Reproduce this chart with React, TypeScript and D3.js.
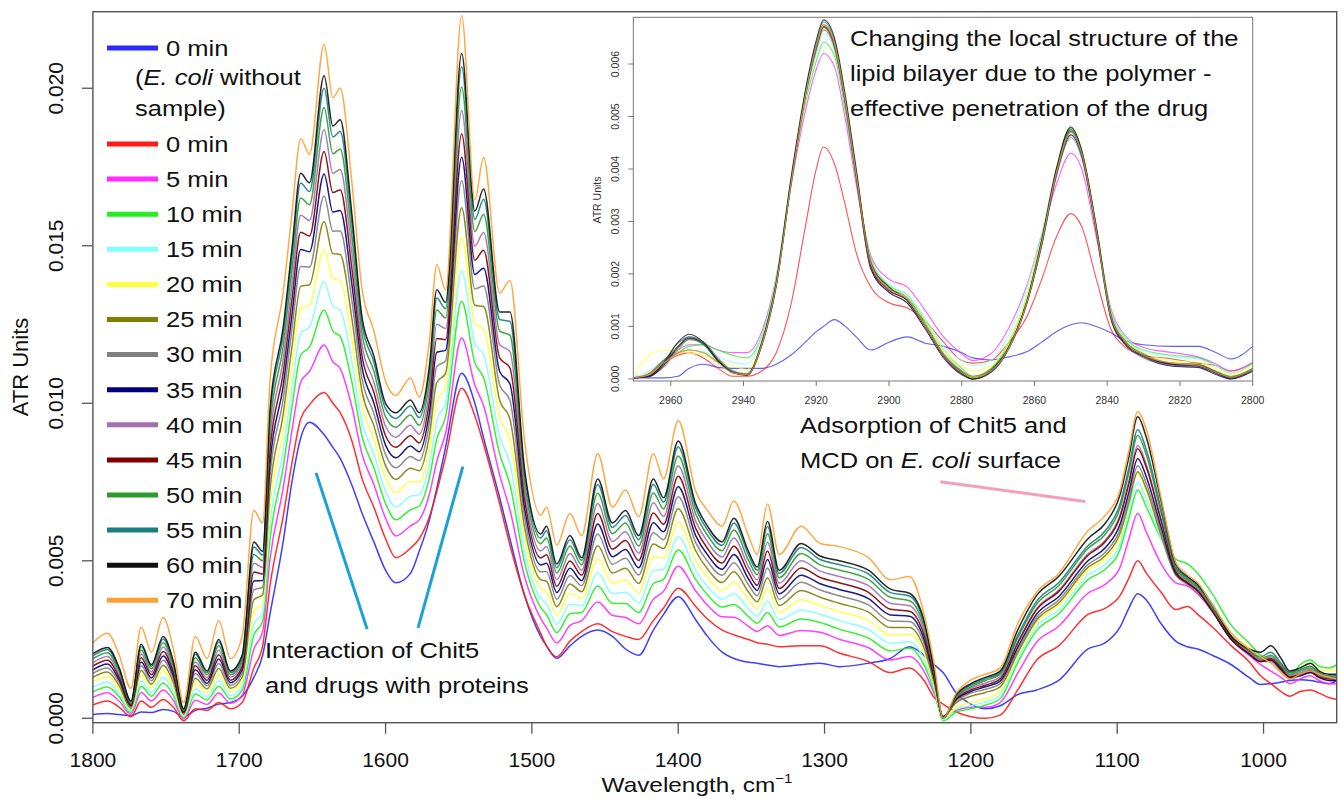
import React from "react";
import * as d3 from "d3";

// ---------- MAIN SPECTRUM (ATR units x 1e-3) ----------
const wavenumbers = [1800,1790,1782,1774,1767,1760,1752,1745,1738,1730,1722,1714,1706,1698,1690,1684,1679,1670,1664,1658,1652,1642,1636,1631,1623,1616,1608,1600,1593,1583,1577,1570,1565,1559,1548,1539,1533,1522,1515,1505,1494,1490,1483,1474,1466,1455,1445,1436,1427,1417,1410,1400,1388,1380,1370,1362,1352,1346,1339,1331,1316,1303,1290,1270,1255,1242,1232,1225,1219,1210,1200,1190,1180,1168,1155,1140,1120,1108,1098,1092,1086,1080,1070,1060,1052,1045,1035,1022,1010,1002,995,988,982,975,968,962,955,950];

const mEcoli = [0.12,0.15,0.12,0.08,0.2,0.18,0.28,0.22,0.05,0.25, 0.32,0.45,0.5,0.7,1.3,2.0,3.3,5.6,7.5,8.9, 9.4,9.0,8.6,8.25,7.4,6.5,5.6,4.7,4.3,4.6, 5.3,6.3,7.3,8.6,10.95,10.0,8.9,7.0,5.7,3.9, 2.6,2.3,1.9,2.3,2.6,2.8,2.6,2.2,2.0,2.8, 3.3,3.86,3.12,2.6,2.1,1.9,1.78,1.75,1.69,1.64, 1.7,1.75,1.64,1.75,1.9,2.27,2.0,1.7,1.45,0.8, 0.45,0.3,0.4,0.75,0.9,1.2,2.2,2.4,2.9,3.5, 3.95,3.75,3.0,2.45,2.27,2.2,2.0,1.7,1.3,1.07, 1.1,1.15,1.2,1.22,1.2,1.15,1.1,1.2];
const m0 = [0.42,0.55,0.35,0.05,0.55,0.35,0.6,0.35,-0.08,0.3, 0.25,0.5,0.3,0.5,1.6,2.3,4.2,6.4,8.1,9.5, 9.95,10.34,10.0,9.7,8.8,7.6,6.7,5.7,5.1,5.4, 5.7,6.4,7.2,8.3,10.48,9.6,8.7,6.8,5.5,3.9, 2.7,2.3,1.95,2.45,2.75,3.0,2.75,2.6,2.5,3.1, 3.5,4.13,3.55,3.15,2.8,2.65,2.5,2.4,2.35,2.27, 2.3,2.3,2.07,1.8,1.45,1.6,1.2,0.65,0.45,0.2, 0.05,0.0,0.1,0.9,1.85,2.3,3.3,3.5,3.9,4.45, 5.0,4.6,4.0,3.45,3.55,3.3,2.9,2.3,1.8,1.35, 1.1,0.85,0.7,0.85,0.9,0.8,0.65,0.6];
const m5 = [0.66,0.81,0.54,0.13,0.82,0.55,0.90,0.57,-0.02,0.57, 0.44,0.80,0.48,0.73,2.2,2.75,5.04,7.3,9.12,10.67, 11.01,11.85,11.32,11.1,9.88,8.37,7.42,6.35,5.79,6.11, 6.3,7.12,8.16,9.04,12.07,10.58,9.92,7.72,6.61,4.5, 3.17,2.87,2.39,2.95,3.1,3.69,3.27,3.2,3.0,3.78, 4.03,4.83,4.04,3.59,3.22,3.21,2.92,2.76,2.94,2.63, 2.79,2.73,2.51,2.24,1.85,1.96,1.49,0.78,0.05,0.25, 0.35,0.35,0.5,1.43,2.42,2.92,3.97,4.26,4.8,5.7, 6.5,5.9,4.9,4.3,4.2,3.95,3.4,2.5,2.0,1.7, 1.5,1.3,1.1,1.25,1.35,1.2,1.1,1.1];
const m10 = [0.84,0.99,0.68,0.18,1.02,0.70,1.12,0.73,0.02,0.77, 0.58,1.02,0.61,0.89,2.64,3.08,5.66,7.96,9.87,11.53, 11.78,12.96,12.29,12.12,10.67,8.93,7.95,6.82,6.3,6.62, 6.74,7.65,8.86,9.57,13.24,11.29,10.81,8.39,7.42,4.94, 3.52,3.29,2.72,3.32,3.36,4.2,3.65,3.64,3.36,4.27, 4.41,5.34,4.4,3.92,3.53,3.61,3.23,3.02,3.36,2.9, 3.15,3.04,2.83,2.55,2.14,2.22,1.69,0.87,-0.08,0.2, 0.3,0.42,0.62,1.77,2.79,3.31,4.4,4.74,5.37,6.35, 7.25,6.7,5.7,5.05,4.9,4.6,3.95,2.95,2.4,2.0, 1.85,1.55,1.35,1.7,1.85,1.65,1.6,1.7];
const m15 = [0.99,1.15,0.79,0.23,1.18,0.82,1.30,0.86,0.05,0.93, 0.69,1.20,0.72,1.03,3.0,3.35,6.16,8.5,10.48,12.23, 12.42,13.86,13.08,12.96,11.32,9.39,8.38,7.21,6.71,7.05, 7.1,8.08,9.44,10.02,14.2,11.88,11.54,8.94,8.09,5.3, 3.8,3.63,2.98,3.62,3.57,4.61,3.96,4.0,3.66,4.68, 4.73,5.76,4.69,4.18,3.78,3.95,3.48,3.24,3.72,3.12, 3.44,3.3,3.1,2.82,2.38,2.43,1.87,0.95,-0.05,0.3, 0.4,0.52,0.75,1.89,2.92,3.44,4.55,4.9,5.56,6.6, 7.5,6.95,5.7,4.7,4.5,4.25,3.65,2.7,2.2,1.9, 1.8,1.5,1.25,1.4,1.5,1.35,1.3,1.35];
const m20 = [1.15,1.32,0.91,0.28,1.36,0.96,1.50,1.00,0.09,1.11, 0.81,1.40,0.84,1.18,3.4,3.65,6.72,9.1,11.16,13.01, 13.12,14.87,13.96,13.89,12.04,9.9,8.86,7.64,7.17,7.52, 7.5,8.56,10.08,10.51,15.26,12.53,12.35,9.55,8.83,5.7, 4.12,4.01,3.28,3.96,3.81,5.07,4.3,4.4,3.99,5.13, 5.08,6.23,5.01,4.48,4.06,4.32,3.76,3.48,4.11,3.36, 3.76,3.58,3.39,3.11,2.64,2.67,2.06,1.03,0.0,0.35, 0.5,0.62,0.85,2.0,3.04,3.58,4.69,5.07,5.76,6.8, 7.8,7.2,5.8,4.65,4.45,4.2,3.6,2.7,2.25,1.95, 1.95,1.65,1.4,1.6,1.7,1.55,1.5,1.55];
const m25 = [1.30,1.47,1.03,0.32,1.52,1.08,1.68,1.13,0.13,1.27, 0.93,1.58,0.95,1.31,3.76,3.92,7.22,9.64,11.77,13.71, 13.76,15.77,14.75,14.72,12.69,10.35,9.29,8.02,7.58,7.94, 7.86,8.99,10.66,10.95,16.21,13.11,13.07,10.09,9.5,6.06, 4.4,4.35,3.54,4.26,4.02,5.48,4.61,4.76,4.28,5.53, 5.39,6.65,5.31,4.74,4.31,4.65,4.01,3.7,4.46,3.58, 4.06,3.84,3.65,3.37,2.88,2.88,2.23,1.11,0.05,0.5, 0.7,0.82,1.0,2.08,3.12,3.66,4.79,5.17,5.88,6.84, 7.83,7.27,5.8,4.55,4.3,4.05,3.45,2.55,2.1,1.85, 1.85,1.55,1.3,1.4,1.5,1.35,1.3,1.3];
const m30 = [1.43,1.60,1.13,0.36,1.67,1.19,1.84,1.25,0.16,1.42, 1.03,1.74,1.04,1.43,4.08,4.16,7.67,10.12,12.32,14.34, 14.32,16.58,15.46,15.47,13.26,10.76,9.68,8.37,7.95,8.31, 8.18,9.38,11.17,11.34,17.06,13.63,13.72,10.58,10.09,6.38, 4.65,4.66,3.78,4.53,4.21,5.85,4.89,5.08,4.55,5.89, 5.67,7.03,5.57,4.98,4.54,4.94,4.24,3.89,4.77,3.78, 4.32,4.07,3.89,3.6,3.09,3.07,2.38,1.18,0.05,0.55, 0.8,0.92,1.1,2.15,3.2,3.75,4.88,5.28,6.01,6.99, 8.02,7.44,5.91,4.55,4.25,4.0,3.4,2.5,2.05,1.8, 1.8,1.5,1.25,1.35,1.45,1.3,1.2,1.2];
const m35 = [1.54,1.72,1.21,0.40,1.79,1.28,1.98,1.35,0.18,1.54, 1.11,1.88,1.13,1.54,4.36,4.37,8.06,10.54,12.79,14.88, 14.81,17.28,16.07,16.12,13.77,11.12,10.01,8.67,8.27,8.64, 8.46,9.71,11.62,11.68,17.81,14.09,14.29,11.01,10.61,6.66, 4.87,4.92,3.99,4.76,4.37,6.17,5.13,5.36,4.78,6.21, 5.92,7.35,5.79,5.19,4.73,5.2,4.43,4.06,5.04,3.95, 4.54,4.27,4.09,3.8,3.28,3.24,2.51,1.24,0.05,0.6, 0.85,1.0,1.18,2.25,3.31,3.86,5.0,5.42,6.17,7.18, 8.24,7.65,6.06,4.6,4.3,4.05,3.4,2.5,2.05,1.8, 1.85,1.55,1.3,1.35,1.45,1.3,1.2,1.2];
const m40 = [1.77,1.96,1.39,0.47,2.04,1.47,2.26,1.55,0.24,1.79, 1.29,2.16,1.30,1.75,4.92,4.79,8.85,11.38,13.74,15.97, 15.8,18.69,17.3,17.42,14.78,11.83,10.68,9.27,8.92,9.3, 9.02,10.38,12.51,12.37,19.29,14.99,15.42,11.86,11.64,7.22, 5.31,5.45,4.4,5.23,4.7,6.82,5.61,5.92,5.24,6.84, 6.41,8.01,6.25,5.6,5.12,5.72,4.82,4.39,5.59,4.29, 5.0,4.67,4.5,4.21,3.65,3.57,2.78,1.36,0.02,0.65, 0.95,1.12,1.32,2.42,3.49,4.06,5.22,5.66,6.46,7.53, 8.66,8.04,6.32,4.7,4.35,4.1,3.45,2.55,2.1,1.85, 1.95,1.65,1.35,1.45,1.55,1.35,1.3,1.28];
const m45 = [1.66,1.84,1.30,0.43,1.92,1.38,2.12,1.45,0.21,1.67, 1.20,2.02,1.21,1.64,4.64,4.58,8.46,10.96,13.27,15.43, 15.31,17.99,16.69,16.77,14.27,11.48,10.35,8.97,8.6,8.97, 8.74,10.05,12.06,12.02,18.55,14.54,14.86,11.44,11.12,6.94, 5.09,5.19,4.19,4.99,4.54,6.5,5.37,5.64,5.01,6.52, 6.16,7.68,6.02,5.39,4.93,5.46,4.63,4.22,5.31,4.12, 4.77,4.47,4.3,4.0,3.46,3.4,2.64,1.3,0.02,0.62, 0.9,1.05,1.25,2.38,3.45,4.02,5.17,5.61,6.4,7.45, 8.56,7.95,6.26,4.65,4.3,4.05,3.42,2.52,2.05,1.8, 1.9,1.6,1.3,1.4,1.5,1.3,1.25,1.25];
const m50 = [1.89,2.08,1.48,0.50,2.17,1.57,2.40,1.66,0.26,1.92, 1.38,2.30,1.38,1.85,5.2,5.0,9.24,11.8,14.22,16.52, 16.3,19.39,17.92,18.07,15.28,12.19,11.02,9.57,9.24,9.63, 9.3,10.72,12.96,12.71,20.04,15.45,15.99,12.29,12.16,7.5, 5.54,5.72,4.61,5.47,4.87,7.14,5.86,6.2,5.47,7.15, 6.65,8.33,6.48,5.81,5.32,5.98,5.02,4.56,5.86,4.46, 5.23,4.87,4.71,4.41,3.84,3.73,2.91,1.42,0.0,0.68, 1.0,1.2,1.4,2.55,3.63,4.21,5.39,5.85,6.68,7.8, 8.98,8.34,6.52,4.75,4.4,4.15,3.5,2.6,2.15,1.9, 2.0,1.7,1.4,1.5,1.6,1.4,1.3,1.3];
const m55 = [1.98,2.18,1.55,0.53,2.28,1.65,2.52,1.74,0.28,2.03, 1.45,2.42,1.45,1.94,5.44,5.18,9.58,12.16,14.63,16.99, 16.72,20.0,18.45,18.63,15.71,12.5,11.31,9.83,9.52,9.91, 9.54,11.01,13.34,13.0,20.68,15.84,16.48,12.66,12.6,7.74, 5.72,5.95,4.78,5.67,5.01,7.42,6.06,6.44,5.67,7.42, 6.86,8.61,6.67,5.98,5.49,6.2,5.19,4.7,6.09,4.6, 5.42,5.04,4.88,4.58,3.99,3.88,3.02,1.47,0.0,0.7, 1.05,1.25,1.45,2.63,3.72,4.3,5.48,5.96,6.81,7.95, 9.16,8.51,6.64,4.8,4.45,4.2,3.55,2.6,2.15,1.95, 2.1,1.75,1.45,1.55,1.65,1.45,1.35,1.35];
const m60 = [2.05,2.25,1.6,0.55,2.35,1.7,2.6,1.8,0.3,2.1, 1.5,2.5,1.5,2.0,5.6,5.3,9.8,12.4,14.9,17.3, 17.0,20.4,18.8,19.0,16.0,12.7,11.5,10.0,9.7,10.1, 9.7,11.2,13.6,13.2,21.1,16.1,16.8,12.9,12.9,7.9, 5.85,6.1,4.9,5.8,5.1,7.6,6.2,6.6,5.8,7.6, 7.0,8.8,6.8,6.1,5.6,6.35,5.3,4.8,6.25,4.7, 5.55,5.15,5.0,4.7,4.1,3.97,3.1,1.5,0.0,0.75, 1.1,1.3,1.5,2.8,3.9,4.5,5.7,6.2,7.1,8.3, 9.57,8.9,6.9,4.9,4.5,4.25,3.6,2.6,2.2,2.1, 2.3,1.9,1.5,1.6,1.75,1.5,1.4,1.4];
const m70 = [2.4,2.7,2.0,0.95,2.9,2.1,3.2,2.2,0.5,2.6, 1.9,3.1,1.9,2.6,6.6,6.2,10.7,13.5,16.0,18.4, 17.9,21.4,19.7,20.0,17.0,13.6,12.3,10.7,10.25,10.8, 10.2,12.0,14.4,13.6,22.3,16.45,17.8,13.5,13.9,8.8, 6.45,6.7,5.5,6.5,5.8,8.4,6.7,7.25,6.4,8.4, 7.6,9.45,7.2,6.6,6.1,6.9,5.8,5.2,6.8,5.2, 6.1,5.55,5.45,5.1,4.4,4.5,3.3,1.7,0.0,0.8, 1.22,1.4,1.6,3.0,4.0,4.6,5.95,6.45,7.25,8.5, 9.73,9.15,7.0,4.95,4.55,4.3,3.6,2.7,2.2,1.95, 1.75,1.45,1.25,1.4,1.5,1.4,1.3,1.25];

// ---------- INSET (C-H stretch region, ATR units x 1e-3) ----------
const insetWavenumbers = [2970,2966,2962,2958,2955,2951,2947,2943,2939,2935,2931,2927,2923,2920,2918,2915,2912,2909,2905,2900,2895,2890,2885,2880,2877,2872,2867,2862,2858,2854,2850,2847,2843,2839,2835,2830,2822,2815,2810,2806,2800];

const iEcoli = [0.02,0.02,0.02,0.05,0.2,0.28,0.22,0.2,0.2,0.2, 0.28,0.45,0.7,0.9,1.0,1.13,1.0,0.8,0.55,0.7, 0.8,0.68,0.62,0.5,0.4,0.36,0.42,0.52,0.7,0.9, 1.03,1.07,1.0,0.88,0.72,0.65,0.62,0.62,0.5,0.38, 0.62];
const i0 = [0.03,0.1,0.3,0.45,0.5,0.4,0.2,0.05,0.05,0.15, 0.5,1.4,2.9,4.0,4.42,4.1,3.3,2.4,1.75,1.45, 1.35,1.1,0.7,0.35,0.3,0.35,0.7,1.2,1.9,2.7, 3.15,2.9,1.9,0.95,0.6,0.45,0.38,0.3,0.25,0.15, 0.3];
const i5 = [0.0,0.1,0.35,0.55,0.65,0.65,0.55,0.5,0.5,0.9, 1.95,3.65,5.1,5.9,6.2,5.95,4.95,3.7,2.35,1.9, 1.75,1.3,0.8,0.48,0.35,0.48,0.98,1.8,2.75,3.7, 4.3,4.0,2.7,1.35,0.82,0.6,0.5,0.42,0.28,0.15, 0.32];
const i10 = [0.02,0.08,0.28,0.5,0.62,0.65,0.55,0.45,0.4,0.82, 1.9,3.7,5.25,6.05,6.42,6.15,5.1,3.8,2.3,1.78, 1.6,1.1,0.55,0.2,0.05,0.2,0.7,1.6,2.7,4.0, 4.8,4.35,2.9,1.3,0.78,0.55,0.45,0.4,0.25,0.1, 0.3];
const i15 = [0.05,0.15,0.35,0.5,0.55,0.52,0.42,0.32,0.28,0.8, 1.95,3.8,5.35,6.2,6.58,6.25,5.2,3.85,2.3,1.8, 1.6,1.15,0.62,0.35,0.25,0.35,0.85,1.75,2.8,3.95, 4.65,4.25,2.85,1.3,0.8,0.55,0.42,0.38,0.25,0.12, 0.28];
const i20 = [0.1,0.45,0.55,0.52,0.5,0.45,0.35,0.25,0.18,0.7, 1.85,3.7,5.35,6.25,6.65,6.3,5.25,3.9,2.25,1.75, 1.55,1.1,0.55,0.25,0.15,0.25,0.72,1.6,2.7,3.95, 4.7,4.3,2.85,1.25,0.75,0.5,0.35,0.32,0.2,0.1, 0.25];
const i25 = [0.02,0.1,0.35,0.5,0.55,0.5,0.32,0.15,0.1,0.65, 1.8,3.7,5.4,6.3,6.7,6.35,5.3,3.9,2.2,1.7, 1.5,1.0,0.45,0.15,0.05,0.18,0.62,1.5,2.6,3.95, 4.75,4.3,2.85,1.2,0.7,0.45,0.3,0.28,0.14,0.05, 0.2];
const i30 = [0.02,0.05,0.22,0.55,0.75,0.7,0.4,0.15,0.08,0.62, 1.75,3.65,5.35,6.25,6.65,6.3,5.2,3.8,2.1,1.65, 1.45,0.95,0.42,0.1,0.02,0.15,0.6,1.48,2.55,3.85, 4.6,4.2,2.8,1.15,0.65,0.4,0.25,0.22,0.1,0.0, 0.14];
const i35 = [0.02,0.04,0.25,0.6,0.78,0.68,0.36,0.12,0.07,0.64, 1.78,3.7,5.4,6.3,6.7,6.35,5.25,3.85,2.1,1.65, 1.45,0.95,0.4,0.08,0.0,0.12,0.58,1.45,2.55,3.88, 4.65,4.25,2.8,1.15,0.65,0.42,0.24,0.22,0.08,0.0, 0.15];
const i40 = [0.02,0.06,0.3,0.62,0.8,0.7,0.38,0.14,0.08,0.65, 1.78,3.7,5.4,6.3,6.7,6.35,5.25,3.85,2.15,1.7, 1.5,0.98,0.42,0.1,0.0,0.14,0.6,1.48,2.6,3.9, 4.7,4.3,2.85,1.2,0.7,0.44,0.26,0.24,0.1,0.02, 0.16];
const i45 = [0.02,0.05,0.28,0.62,0.78,0.66,0.34,0.12,0.07,0.66, 1.8,3.72,5.42,6.35,6.72,6.38,5.3,3.9,2.15,1.68, 1.5,1.0,0.44,0.1,0.0,0.14,0.6,1.48,2.6,3.92, 4.72,4.3,2.85,1.2,0.7,0.44,0.27,0.24,0.11,0.02, 0.17];
const i50 = [0.02,0.08,0.35,0.6,0.75,0.65,0.35,0.15,0.08,0.68, 1.8,3.7,5.4,6.35,6.75,6.4,5.3,3.9,2.25,1.75, 1.55,1.05,0.48,0.15,0.02,0.18,0.62,1.5,2.65,3.95, 4.78,4.35,2.9,1.25,0.72,0.48,0.3,0.28,0.14,0.04, 0.2];
const i55 = [0.02,0.06,0.32,0.68,0.8,0.68,0.35,0.13,0.08,0.68, 1.82,3.75,5.45,6.4,6.8,6.45,5.35,3.95,2.2,1.72, 1.5,1.0,0.45,0.12,0.0,0.15,0.6,1.48,2.6,3.95, 4.75,4.3,2.85,1.2,0.7,0.45,0.28,0.25,0.12,0.03, 0.16];
const i60 = [0.02,0.05,0.3,0.7,0.85,0.7,0.35,0.12,0.08,0.7, 1.85,3.8,5.5,6.45,6.84,6.5,5.4,4.0,2.2,1.75, 1.5,1.0,0.45,0.12,0.0,0.15,0.62,1.5,2.65,4.0, 4.8,4.35,2.9,1.2,0.68,0.45,0.28,0.26,0.12,0.02, 0.18];
const i70 = [0.02,0.08,0.3,0.48,0.55,0.5,0.3,0.12,0.08,0.66, 1.8,3.7,5.4,6.35,6.75,6.4,5.3,3.9,2.2,1.72, 1.52,1.0,0.45,0.12,0.02,0.15,0.6,1.48,2.6,3.92, 4.7,4.3,2.85,1.2,0.7,0.45,0.3,0.26,0.12,0.03, 0.18];

// ---------- LEGEND / SERIES META ----------
const seriesLabels = ["0 min","0 min","5 min","10 min","15 min","20 min","25 min","30 min","35 min","40 min","45 min","50 min","55 min","60 min","70 min"];
const seriesColors = ["#2a2aff","#ff1a1a","#ff2bff","#22ee22","#80ffff","#ffff40","#808000","#808080","#000080","#a070b0","#800000","#2e9a2e","#178080","#101010","#ffa030"];
const mainSeries = [mEcoli,m0,m5,m10,m15,m20,m25,m30,m35,m40,m45,m50,m55,m60,m70];
const insetSeries = [iEcoli,i0,i5,i10,i15,i20,i25,i30,i35,i40,i45,i50,i55,i60,i70];

const xTicks = [1800,1700,1600,1500,1400,1300,1200,1100,1000];
const yTicks = [0,5,10,15,20];
const insetXTicks = [2960,2940,2920,2900,2880,2860,2840,2820,2800];
const insetYTicks = [0,1,2,3,4,5,6];

const FONT = "'Liberation Sans', Arial, Helvetica, sans-serif";
const SX = 1.16;

function Stext({ x, y, size = 22, anchor = "start", children }: any) {
  return (
    <text transform={`translate(${x},${y}) scale(${SX},1)`} fontSize={size} textAnchor={anchor}
      dominantBaseline="central" fontFamily={FONT} fill="#111">{children}</text>
  );
}

export default function App() {
  const L = 92.9, R = 1336.7, T = 11.7, B = 722.7;
  const x = d3.scaleLinear().domain([1800, 950]).range([L, R]);
  const y = d3.scaleLinear().domain([-0.14, 22.43]).range([B, T]);

  const iL = 633.3, iR = 1252.7, iT = 17.3, iB = 381;
  const ix = d3.scaleLinear().domain([2970.3, 2800]).range([iL, iR]);
  const iy = d3.scaleLinear().domain([-0.04, 6.89]).range([iB, iT]);

  const mainLine = d3.line<number>().x((_, i) => x(wavenumbers[i])).y(d => y(d)).curve(d3.curveMonotoneX);
  const insetLine = d3.line<number>().x((_, i) => ix(insetWavenumbers[i])).y(d => iy(d)).curve(d3.curveMonotoneX);

  const legendY0 = 144, legendStep = 35.1;

  return (
    <svg width={1343} height={799} style={{ position: "absolute", left: 0, top: 0, background: "#fff" }}
      fontFamily={FONT}>
      <defs>
        <clipPath id="mainClip"><rect x={L} y={T} width={R - L} height={B - T} /></clipPath>
        <clipPath id="insetClip"><rect x={iL} y={iT} width={iR - iL} height={iB - iT} /></clipPath>
      </defs>
      <rect x={0} y={0} width={1343} height={799} fill="#fff" />

      {/* main curves */}
      <g clipPath="url(#mainClip)">
        {mainSeries.map((s, k) => (
          <path key={k} d={mainLine(s) || ""} fill="none" stroke={seriesColors[k]} strokeWidth={1.5}
            strokeOpacity={0.9} strokeLinejoin="round" />
        ))}
      </g>

      {/* main frame */}
      <rect x={L} y={T} width={R - L} height={B - T} fill="none" stroke="#555" strokeWidth={1.4} />

      {/* x axis */}
      {xTicks.map(t => (
        <g key={t}>
          <line x1={x(t)} x2={x(t)} y1={B} y2={B + 11} stroke="#555" strokeWidth={1.3} />
          <text x={x(t)} y={759} fontSize={21} textAnchor="middle" dominantBaseline="central" fill="#111">{t}</text>
        </g>
      ))}
      <text transform={`translate(697,792) scale(${SX},1)`} fontSize={21} textAnchor="middle" fill="#111">
        Wavelength, cm<tspan fontSize={13} dy={-9}>−1</tspan>
      </text>

      {/* y axis */}
      {yTicks.map(t => (
        <g key={t}>
          <line x1={L - 11} x2={L} y1={y(t)} y2={y(t)} stroke="#555" strokeWidth={1.3} />
          <text transform={`translate(63,${y(t)}) rotate(-90)`} fontSize={21} textAnchor="middle" fill="#111">
            {(t / 1000).toFixed(3)}
          </text>
        </g>
      ))}
      <text transform="translate(28,367) rotate(-90)" fontSize={22} textAnchor="middle" fill="#111">ATR Units</text>

      {/* legend */}
      <line x1={107} x2={158} y1={48} y2={48} stroke={seriesColors[0]} strokeWidth={5} />
      <Stext x={166} y={48}>0 min</Stext>
      <Stext x={135} y={77}>(<tspan fontStyle="italic">E. coli</tspan> without</Stext>
      <Stext x={135} y={108}>sample)</Stext>
      {seriesLabels.slice(1).map((lab, k) => {
        const yy = legendY0 + k * legendStep;
        return (
          <g key={k}>
            <line x1={107} x2={158} y1={yy} y2={yy} stroke={seriesColors[k + 1]} strokeWidth={5} />
            <Stext x={166} y={yy}>{lab}</Stext>
          </g>
        );
      })}

      {/* annotations main */}
      <line x1={x(1647.5)} y1={y(7.79)} x2={x(1612.6)} y2={y(2.83)} stroke="#1ba1d6" strokeWidth={3} />
      <line x1={x(1547.2)} y1={y(7.99)} x2={x(1577.8)} y2={y(2.87)} stroke="#1ba1d6" strokeWidth={3} />
      <Stext x={265} y={650}>Interaction of Chit5</Stext>
      <Stext x={265} y={685}>and drugs with proteins</Stext>

      <line x1={x(1220.9)} y1={y(7.51)} x2={x(1121.8)} y2={y(6.88)} stroke="#f5a0bb" strokeWidth={3} />
      <Stext x={800} y={425}>Adsorption of Chit5 and</Stext>
      <Stext x={800} y={460}>MCD on <tspan fontStyle="italic">E. coli</tspan> surface</Stext>

      {/* inset */}
      <rect x={iL} y={iT} width={iR - iL} height={iB - iT} fill="#fff" />
      <g clipPath="url(#insetClip)">
        {insetSeries.map((s, k) => (
          <path key={k} d={insetLine(s) || ""} fill="none" stroke={seriesColors[k]} strokeWidth={1.1}
            strokeOpacity={0.75} />
        ))}
      </g>
      <rect x={iL} y={iT} width={iR - iL} height={iB - iT} fill="none" stroke="#777" strokeWidth={1} />
      {insetXTicks.map(t => (
        <g key={t}>
          <line x1={ix(t)} x2={ix(t)} y1={iB} y2={iB + 5} stroke="#777" />
          <text x={ix(t)} y={400} fontSize={10.5} textAnchor="middle" dominantBaseline="central" fill="#333">{t}</text>
        </g>
      ))}
      {insetYTicks.map(t => (
        <g key={t}>
          <line x1={iL - 5} x2={iL} y1={iy(t)} y2={iy(t)} stroke="#777" />
          <text transform={`translate(618.5,${iy(t)}) rotate(-90)`} fontSize={10.5} textAnchor="middle" fill="#333">
            {(t / 1000).toFixed(3)}
          </text>
        </g>
      ))}
      <text transform="translate(601,200) rotate(-90)" fontSize={10.5} textAnchor="middle" fill="#333">ATR Units</text>

      <Stext x={850} y={38.5}>Changing the local structure of the</Stext>
      <Stext x={850} y={73.5}>lipid bilayer due to the polymer -</Stext>
      <Stext x={850} y={108.5}>effective penetration of the drug</Stext>
    </svg>
  );
}
